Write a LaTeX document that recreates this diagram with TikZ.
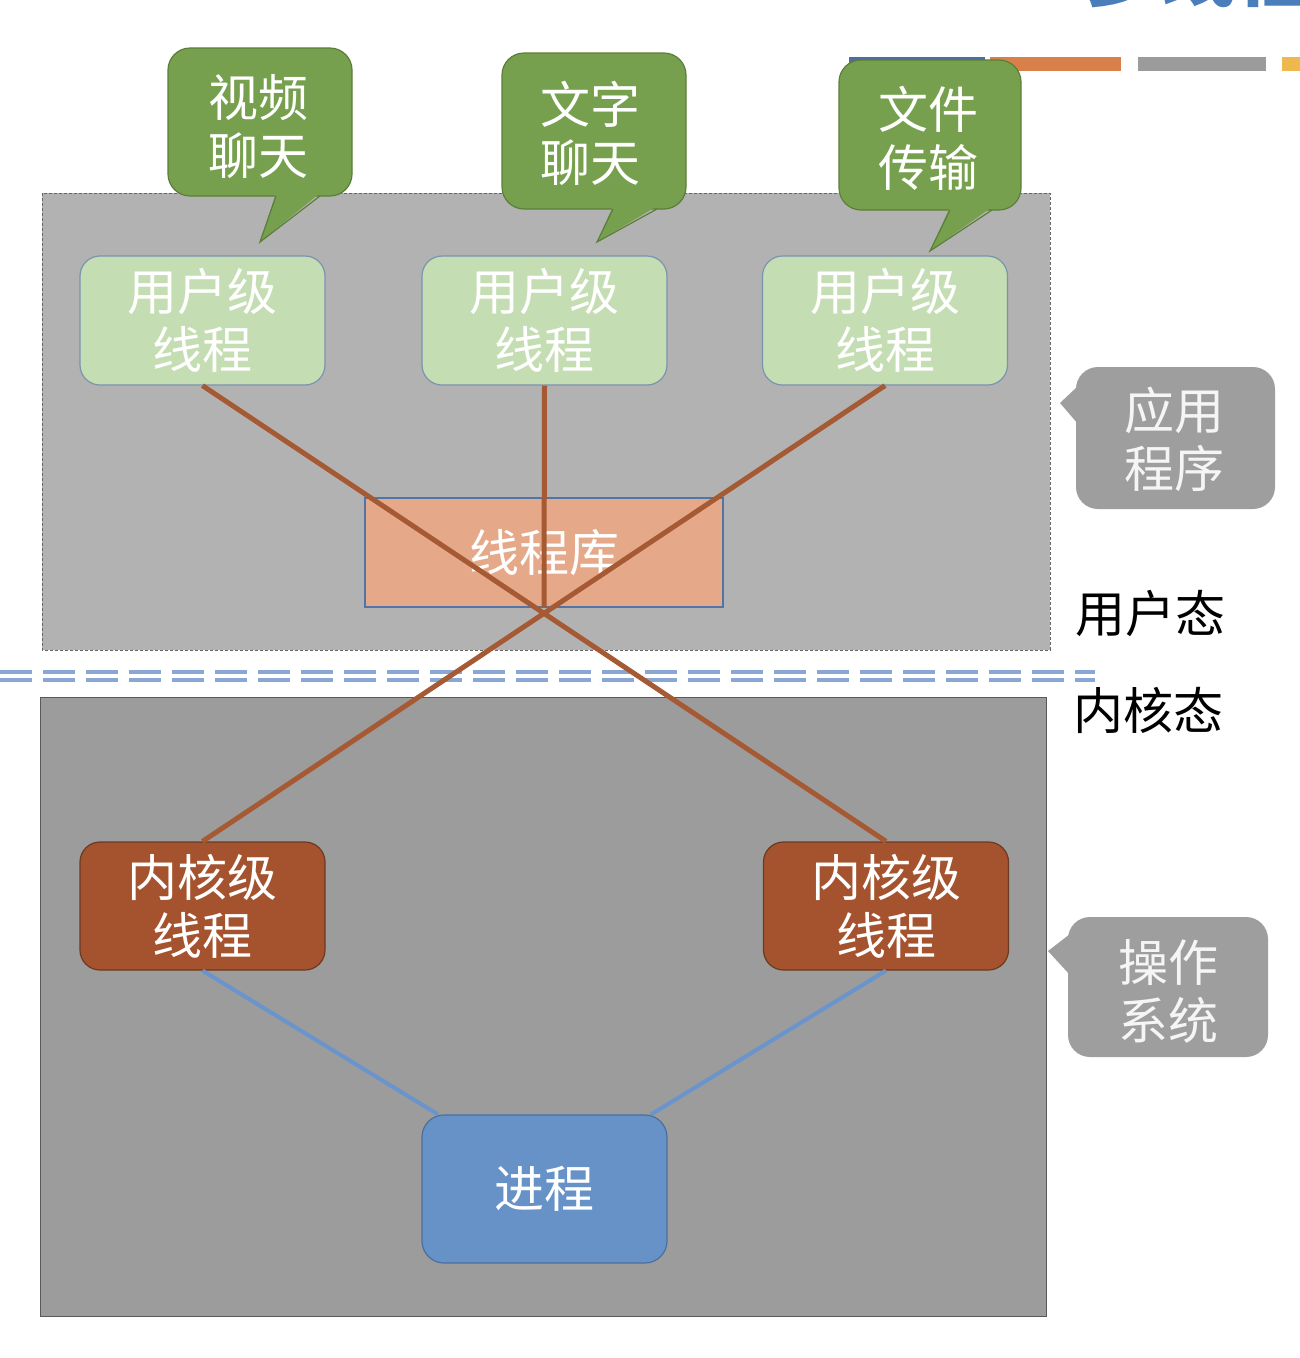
\documentclass[tikz,border=0pt]{standalone}
\usepackage{fontspec}
\setmainfont{Noto Sans CJK SC}
\definecolor{upfill}{HTML}{B2B2B2}
\definecolor{lowfill}{HTML}{9C9C9C}
\definecolor{userfill}{HTML}{C5DDB3}
\definecolor{userborder}{HTML}{7A93B0}
\definecolor{callgreen}{HTML}{76A04E}
\definecolor{callgreenb}{HTML}{5B7F3A}
\definecolor{libfill}{HTML}{E5A98A}
\definecolor{libborder}{HTML}{5075A8}
\definecolor{kfill}{HTML}{A5532F}
\definecolor{kborder}{HTML}{6B3A22}
\definecolor{pfill}{HTML}{6792C8}
\definecolor{pborder}{HTML}{4A6F9E}
\definecolor{blueline}{HTML}{6A94CC}
\definecolor{brownline}{HTML}{A65A34}
\definecolor{graycall}{HTML}{9E9E9E}
\definecolor{dashblue}{HTML}{8AA6D2}
\definecolor{titleblue}{HTML}{4A7EBB}
\definecolor{barblue}{HTML}{4F6E9E}
\definecolor{barorange}{HTML}{D9804A}
\definecolor{bargray}{HTML}{9B9B9B}
\definecolor{baryellow}{HTML}{EDB94E}
\tikzset{
  txt/.style={font=\fontsize{50}{58}\selectfont, align=center, text=white},
  userbox/.style={txt, draw=userborder, line width=1.2, fill=userfill, rounded corners=20, minimum width=245, minimum height=129, inner sep=0},
  kernbox/.style={txt, draw=kborder, line width=1.2, fill=kfill, rounded corners=20, minimum width=245, minimum height=128, inner sep=0},
  procbox/.style={txt, draw=pborder, line width=1.2, fill=pfill, rounded corners=22, minimum width=245, minimum height=148, inner sep=0},
  libbox/.style={txt, draw=libborder, line width=1.2, fill=libfill, minimum width=358, minimum height=109, inner sep=0},
  brown/.style={draw=brownline, line width=5},
  bline/.style={draw=blueline, line width=4},
  greencall/.style={fill=callgreen, draw=callgreenb, line width=1.2},
  graycallst/.style={fill=graycall, draw=graycall, line width=1},
  sidelabel/.style={font=\fontsize{50}{58}\selectfont, text=black}
}
\begin{document}
\begin{tikzpicture}[x=1pt,y=-1pt]
\clip (0,0) rectangle (1300,1358);
\fill[white] (0,0) rectangle (1300,1358);

% title fragment and decorative bars
\node[anchor=base west, inner sep=0, text=titleblue, font=\fontsize{75}{75}\selectfont\bfseries] (title) at (1085,0) {多线程};
\fill[barblue] (849,57) rectangle (985,71);
\fill[barorange] (990,57) rectangle (1121,71);
\fill[bargray] (1138,57) rectangle (1266,71);
\fill[baryellow] (1282,57) rectangle (1310,71);

% regions
\draw[fill=upfill, draw=gray!80!black, dash pattern=on 3 off 2, line width=1] (42,193) rectangle (1050,650);
\draw[fill=lowfill, draw=gray!70!black, line width=1] (40,697) rectangle (1046,1316);

% double dashed separator
\draw[dashblue, line width=4, dash pattern=on 32 off 11] (0,672) -- (1095,672);
\draw[dashblue, line width=4, dash pattern=on 32 off 11] (0,680) -- (1095,680);

% green callouts
\draw[greencall, rounded corners=22] (168,48) rectangle (352,196);
\fill[callgreen] (276,193) -- (260,242) -- (320,193) -- cycle;
\draw[callgreenb, line width=1.2] (276,196) -- (260,242) -- (320,196);
\node[txt] (c1) at (258,127) {视频\\聊天};

\draw[greencall, rounded corners=22] (502,53) rectangle (686,209);
\fill[callgreen] (613,206) -- (597,242) -- (657,206) -- cycle;
\draw[callgreenb, line width=1.2] (613,209) -- (597,242) -- (657,209);
\node[txt] (c2) at (590,133) {文字\\聊天};

\draw[greencall, rounded corners=22] (839,60) rectangle (1021,210);
\fill[callgreen] (950,207) -- (930,251) -- (992,207) -- cycle;
\draw[callgreenb, line width=1.2] (950,210) -- (930,251) -- (992,210);
\node[txt] (c3) at (928,138) {文件\\传输};

% gray callouts
\fill[graycall, rounded corners=22] (1076,367) rectangle (1275,509);
\fill[graycall] (1078,386) -- (1060,403) -- (1078,424) -- cycle;
\node[txt, text=white!96!black] (app) at (1174,439) {应用\\程序};

\fill[graycall, rounded corners=22] (1068,917) rectangle (1268,1057);
\fill[graycall] (1070,934) -- (1048,951) -- (1070,975) -- cycle;
\node[txt, text=white!96!black] (os) at (1168,991) {操作\\系统};

% main nodes
\node[userbox] (u1) at (202.5,320.5) {用户级\\线程};
\node[userbox] (u2) at (544.5,320.5) {用户级\\线程};
\node[userbox] (u3) at (885,320.5) {用户级\\线程};
\node[libbox] (lib) at (544,552.5) {线程库};
\node[kernbox] (k1) at (202.5,906) {内核级\\线程};
\node[kernbox] (k2) at (886,906) {内核级\\线程};
\node[procbox] (proc) at (544.5,1189) {进程};

% connectors
\draw[brown] (u1.south) -- (k2.north);
\draw[brown] (u3.south) -- (k1.north);
\draw[brown] (u2.south) -- (lib.south);
\draw[bline] (k1.south) -- (proc.145);
\draw[bline] (k2.south) -- (proc.35);

% side labels
\node[sidelabel] (userstate) at (1150,614) {用户态};
\node[sidelabel] (kernstate) at (1148,710) {内核态};
\end{tikzpicture}
\end{document}
